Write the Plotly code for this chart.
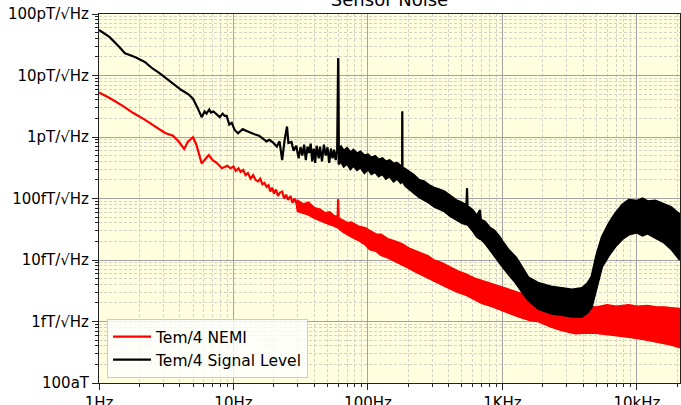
import plotly.graph_objects as go

# ---------------- data ----------------
# Signal level (black). Low-frequency part: a single trace line [T/sqrt(Hz)]
sig_line_freq = [1, 1.2, 1.4, 1.56, 1.75, 1.9, 2.2, 2.5, 2.8, 3.0, 3.5, 4.1, 4.6, 5.0, 5.4,
                 5.8, 6.1, 6.3, 6.6, 6.8, 7.1, 7.5, 7.9, 8.3, 8.6, 8.9, 9.3, 9.7, 10.2, 10.8,
                 11.7, 12.5, 13.6, 14.5, 15.5, 16.5, 17.6, 18.5, 19.6, 21, 22, 23, 24, 25,
                 25.6, 27, 28, 29.3, 30.5, 31.5, 32.5, 33.5, 34.5, 35.5, 36.5, 37.5, 38.5,
                 39.5, 40.5, 41.5, 43, 44, 45.5, 47, 48.5, 50, 51.5, 53, 54.5, 56, 57.5, 59,
                 60]
sig_line = [55e-12, 42e-12, 30e-12, 23e-12, 21e-12, 19.5e-12, 16.5e-12, 13e-12, 11e-12,
            9.8e-12, 7.5e-12, 5.8e-12, 5.0e-12, 4.2e-12, 3.0e-12, 2.1e-12, 2.6e-12, 2.4e-12,
            2.8e-12, 2.5e-12, 2.6e-12, 2.3e-12, 2.1e-12, 2.4e-12, 2.2e-12, 2.2e-12, 1.6e-12,
            1.7e-12, 1.3e-12, 1.15e-12, 1.34e-12, 1.25e-12, 1.15e-12, 1.1e-12, 1.05e-12,
            0.95e-12, 0.85e-12, 0.9e-12, 0.82e-12, 0.7e-12, 0.85e-12, 0.42e-12, 0.9e-12,
            1.48e-12, 0.8e-12, 0.83e-12, 0.6e-12, 0.72e-12, 0.45e-12, 0.68e-12, 0.5e-12,
            0.75e-12, 0.42e-12, 0.7e-12, 0.55e-12, 0.78e-12, 0.4e-12, 0.65e-12, 0.38e-12,
            0.72e-12, 0.45e-12, 0.7e-12, 0.4e-12, 0.75e-12, 0.5e-12, 0.68e-12, 0.38e-12,
            0.65e-12, 0.45e-12, 0.62e-12, 0.42e-12, 0.6e-12, 19e-12]
# Dense noisy part: upper / lower envelope [fT/sqrt(Hz)]
sig_band_freq = [60.5, 63, 66, 70, 74, 78, 83, 88, 94, 100, 106, 113, 120, 128, 136, 145,
                 155, 165, 175, 179.5, 180, 180.5, 190, 205, 220, 240, 260, 285, 310, 340,
                 370, 410, 450, 500, 540, 545, 550, 600, 645, 680, 690, 740, 800, 870, 950,
                 1000, 1100, 1260, 1400, 1560, 1860, 2300, 2750, 3300, 3900, 4300, 4600,
                 5000, 5500, 6200, 6900, 7800, 8700, 10000, 11000, 12000, 13700, 15000,
                 16000, 18000, 19500, 20900]
sig_band_hi = [640, 700, 600, 660, 560, 620, 540, 580, 500, 520, 460, 490, 430, 450, 400,
               420, 370, 380, 340, 330, 2600, 320, 300, 270, 240, 200, 190, 165, 150, 140,
               130, 110, 95, 85, 78, 146, 75, 65, 52, 65, 45, 42, 34, 30, 24,
               20, 15, 11, 7.5, 5.2, 4.2, 3.7, 3.5, 3.3, 3.5, 4.2, 5.4,
               12, 24, 40, 57, 80, 95, 92, 100, 90, 92, 85,
               80, 72, 62, 55]
sig_band_lo = [360, 400, 330, 370, 300, 340, 290, 320, 260, 300, 250, 270, 230, 250, 210,
               230, 190, 210, 180, 190, 190, 190, 160, 140, 120, 105, 95, 85, 74, 68,
               62, 52, 46, 40, 38, 38, 38, 30, 24, 22, 22, 19, 15, 12, 9,
               7.8, 6, 4.2, 3, 2.2, 1.6, 1.35, 1.28, 1.2, 1.2, 1.4, 1.7,
               3.5, 7.8, 12, 16.5, 22, 26, 28, 25, 27, 23, 21,
               19, 15, 12, 10]

# NEMI (red). Low-frequency single line [T/sqrt(Hz)]
nemi_line_freq = [1, 1.2, 1.5, 1.8, 2.2, 2.6, 3.1, 3.55, 3.9, 4.3, 4.6, 5.0, 5.3, 5.8, 6.2,
                  6.55, 7.0, 7.5, 8.2, 9.0, 9.5, 10, 10.4, 10.9, 11.3, 11.8, 12.3, 12.8,
                  13.4, 14.0, 14.6, 15.2, 15.8, 16.4, 17.0, 17.6, 18.2, 18.8, 19.4, 20.0,
                  20.7, 21.4, 22.2, 23.0, 23.8, 24.6, 25.5, 26.5, 27.5, 28.5, 29.5]
nemi_line = [5.3e-12, 4.3e-12, 3.2e-12, 2.45e-12, 1.9e-12, 1.5e-12, 1.16e-12, 1.05e-12,
             0.85e-12, 0.64e-12, 0.85e-12, 0.99e-12, 0.75e-12, 0.37e-12, 0.45e-12, 0.51e-12,
             0.42e-12, 0.38e-12, 0.31e-12, 0.34e-12, 0.31e-12, 0.33e-12, 0.28e-12, 0.31e-12,
             0.27e-12, 0.29e-12, 0.24e-12, 0.26e-12, 0.21e-12, 0.24e-12, 0.2e-12, 0.19e-12,
             0.21e-12, 0.17e-12, 0.18e-12, 0.155e-12, 0.165e-12, 0.13e-12, 0.15e-12,
             0.12e-12, 0.14e-12, 0.11e-12, 0.125e-12, 0.13e-12, 0.1e-12, 0.115e-12,
             0.095e-12, 0.11e-12, 0.085e-12, 0.1e-12, 0.08e-12]
# Dense noisy part: upper / lower envelope [fT/sqrt(Hz)]
nemi_band_freq = [30, 33, 36, 40, 44, 48, 52, 56, 59.5, 60, 60.5, 65, 70, 75, 85, 95, 103,
                  115, 125, 140, 160, 180, 200, 225, 250, 280, 305, 350, 400, 470, 540, 620,
                  700, 850, 1000, 1200, 1400, 1600, 1860, 2300, 2750, 3200, 3500, 3900,
                  4300, 5000, 6000, 7000, 8700, 10000, 12000, 14000, 16000, 18000, 20900]
nemi_band_hi = [92, 80, 86, 70, 66, 58, 60, 52, 50, 97, 48, 44, 40, 41, 35, 33, 30,
                26, 26, 22, 20, 18, 15.5, 14, 12.5, 11.5, 10, 9, 7.8, 6.5, 5.8, 5,
                4.6, 4.0, 3.6, 3.1, 2.8, 2.6, 2.4, 1.9, 1.6, 1.45, 1.45, 1.55,
                1.75, 1.7, 1.85, 1.75, 1.85, 1.75, 1.8, 1.7, 1.7, 1.65, 1.6]
nemi_band_lo = [62, 58, 55, 48, 44, 40, 38, 36, 34, 34, 33, 29, 26, 24, 21, 18, 15,
                14, 12, 11, 9.5, 8.5, 7.5, 6.5, 5.8, 5.2, 4.6, 4.0, 3.5, 3.0, 2.7, 2.3,
                2.0, 1.75, 1.5, 1.3, 1.15, 1.05, 1.0, 0.82, 0.72, 0.66, 0.64, 0.65,
                0.66, 0.65, 0.62, 0.6, 0.56, 0.54, 0.5, 0.47, 0.45, 0.42, 0.38]

x_tickvals = [1, 10, 100, 1000, 10000]
x_ticktext = ["1Hz", "10Hz", "100Hz", "1KHz", "10kHz"]
y_tickvals = [1e-16, 1e-15, 1e-14, 1e-13, 1e-12, 1e-11, 1e-10]
y_ticktext = ["100aT", "1fT/√Hz", "10fT/√Hz", "100fT/√Hz", "1pT/√Hz", "10pT/√Hz", "100pT/√Hz"]

FT = 1e-15
series = [
    ("Tem/4 NEMI", "#ff0000", nemi_line_freq, nemi_line, nemi_band_freq,
     [v * FT for v in nemi_band_hi], [v * FT for v in nemi_band_lo]),
    ("Tem/4 Signal Level", "#000000", sig_line_freq, sig_line, sig_band_freq,
     [v * FT for v in sig_band_hi], [v * FT for v in sig_band_lo]),
]

# ---------------- figure ----------------
fig = go.Figure()
for name, color, lf, lv, bf, bhi, blo in series:
    fig.add_trace(go.Scatter(x=lf + bf, y=lv + bhi, mode="lines", name=name,
                             line=dict(color=color, width=2.2), legendgroup=name))
    fig.add_trace(go.Scatter(x=lf[-1:] + bf, y=lv[-1:] + blo, mode="lines", name=name,
                             showlegend=False, line=dict(color=color, width=2.2),
                             legendgroup=name, hoverinfo="skip"))
    fig.add_trace(go.Scatter(x=bf + bf[::-1], y=bhi + blo[::-1], mode="lines",
                             fill="toself", fillcolor=color, line=dict(color=color, width=1),
                             showlegend=False, hoverinfo="skip", legendgroup=name))

font = "DejaVu Sans, sans-serif"
axis_common = dict(
    type="log", showline=True, linecolor="#222222", linewidth=1, mirror=True,
    ticks="outside", ticklen=6, tickwidth=1, tickcolor="#222222", automargin=False,
    showgrid=True, gridcolor="#a3a3a3", gridwidth=1.2, zeroline=False,
    tickfont=dict(family=font, size=15, color="#000000"),
    minor=dict(ticks="outside", ticklen=3, tickcolor="#222222", dtick="D1",
               showgrid=True, gridcolor="#d2d2c6", griddash="3px,2px", gridwidth=0.8),
)

fig.update_layout(
    width=681, height=405,
    margin=dict(l=99, r=1, t=14, b=22),
    paper_bgcolor="#ffffff",
    plot_bgcolor="#ffffe0",
    title=dict(text="Sensor Noise", x=0.572, xanchor="center", y=1.0, yref="container",
               yanchor="middle", font=dict(family=font, size=18, color="#000000")),
    xaxis=dict(range=[0, 4.32], tickvals=x_tickvals, ticktext=x_ticktext, **axis_common),
    yaxis=dict(range=[-16, -10], tickvals=y_tickvals, ticktext=y_ticktext, **axis_common),
    legend=dict(x=0.0138, y=0.0136, xanchor="left", yanchor="bottom",
                bgcolor="rgba(255,255,255,0.8)", bordercolor="#cccccc", borderwidth=1,
                font=dict(family=font, size=15.5, color="#000000"), itemwidth=38,
                tracegroupgap=0),
    showlegend=True,
)

fig.write_html("out.html", config={"displayModeBar": False},
               post_script="document.body.style.margin='0';document.body.style.overflow='hidden';")
